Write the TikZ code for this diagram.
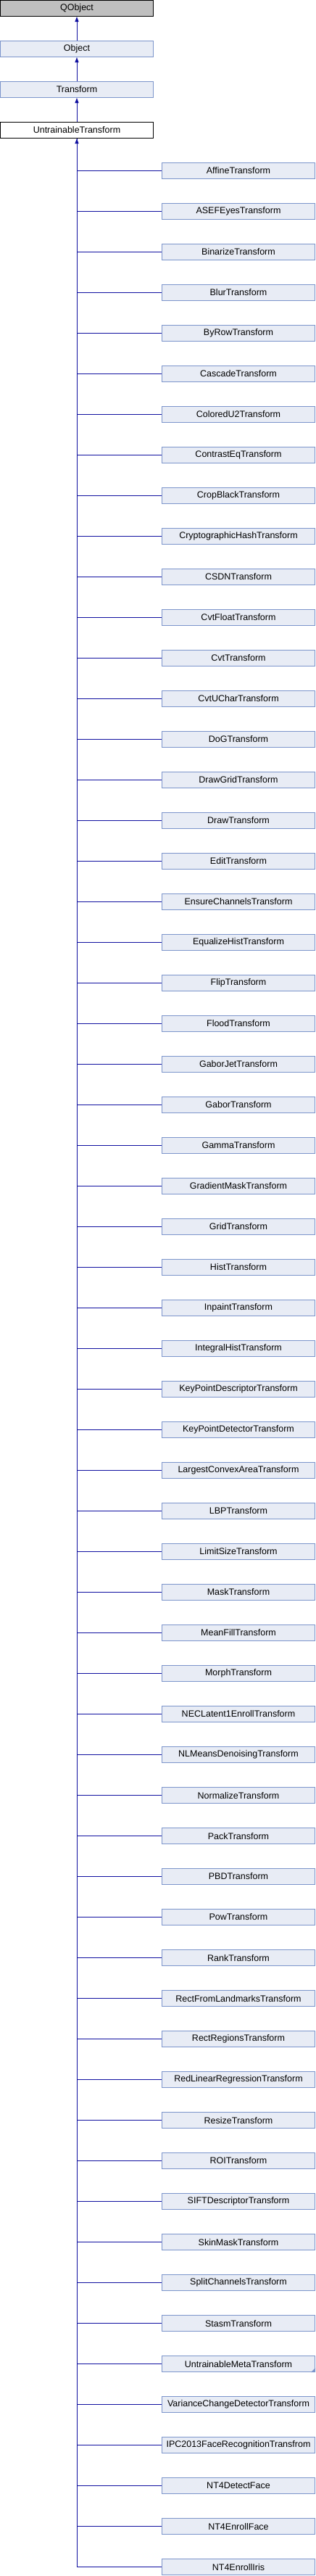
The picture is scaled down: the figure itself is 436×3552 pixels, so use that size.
\documentclass[tikz,border=0pt]{standalone}
\usepackage{fontspec}
\setmainfont{Liberation Sans}
\usetikzlibrary{arrows.meta}
\definecolor{boxfill}{HTML}{E8ECF5}
\definecolor{boxborder}{HTML}{7C95CB}
\definecolor{rootfill}{HTML}{BFBFBF}
\definecolor{linkblue}{HTML}{1010A0}
\begin{document}
\begin{tikzpicture}[x=1pt, y=-1pt, line width=1pt,
  main node/.style={rectangle,draw=boxborder,fill=boxfill,minimum width=211pt,minimum height=22pt,inner sep=0pt,font=\fontsize{12.5}{14}\selectfont},
  root node/.style={main node,draw=black,fill=rootfill},
  this node/.style={main node,draw=black,fill=white},
  link/.style={draw=linkblue,line width=1pt},
  inherit/.style={link,{Triangle[length=7pt,width=5pt]}-}]%
\useasboundingbox (0,0) rectangle (436,3552);
\node[root node] (qobject) at (106,11.5) {QObject};
\node[main node] (object) at (106,67.5) {Object};
\node[main node] (transform) at (106,123.5) {Transform};
\node[this node] (untrainable) at (106,179.5) {UntrainableTransform};
\node[main node] (c1) at (329,235.5) {AffineTransform};
\node[main node] (c2) at (329,291.5) {ASEFEyesTransform};
\node[main node] (c3) at (329,347.5) {BinarizeTransform};
\node[main node] (c4) at (329,403.5) {BlurTransform};
\node[main node] (c5) at (329,459.5) {ByRowTransform};
\node[main node] (c6) at (329,515.5) {CascadeTransform};
\node[main node] (c7) at (329,571.5) {ColoredU2Transform};
\node[main node] (c8) at (329,627.5) {ContrastEqTransform};
\node[main node] (c9) at (329,683.5) {CropBlackTransform};
\node[main node] (c10) at (329,739.5) {CryptographicHashTransform};
\node[main node] (c11) at (329,795.5) {CSDNTransform};
\node[main node] (c12) at (329,851.5) {CvtFloatTransform};
\node[main node] (c13) at (329,907.5) {CvtTransform};
\node[main node] (c14) at (329,963.5) {CvtUCharTransform};
\node[main node] (c15) at (329,1019.5) {DoGTransform};
\node[main node] (c16) at (329,1075.5) {DrawGridTransform};
\node[main node] (c17) at (329,1131.5) {DrawTransform};
\node[main node] (c18) at (329,1187.5) {EditTransform};
\node[main node] (c19) at (329,1243.5) {EnsureChannelsTransform};
\node[main node] (c20) at (329,1299.5) {EqualizeHistTransform};
\node[main node] (c21) at (329,1355.5) {FlipTransform};
\node[main node] (c22) at (329,1411.5) {FloodTransform};
\node[main node] (c23) at (329,1467.5) {GaborJetTransform};
\node[main node] (c24) at (329,1523.5) {GaborTransform};
\node[main node] (c25) at (329,1579.5) {GammaTransform};
\node[main node] (c26) at (329,1635.5) {GradientMaskTransform};
\node[main node] (c27) at (329,1691.5) {GridTransform};
\node[main node] (c28) at (329,1747.5) {HistTransform};
\node[main node] (c29) at (329,1803.5) {InpaintTransform};
\node[main node] (c30) at (329,1859.5) {IntegralHistTransform};
\node[main node] (c31) at (329,1915.5) {KeyPointDescriptorTransform};
\node[main node] (c32) at (329,1971.5) {KeyPointDetectorTransform};
\node[main node] (c33) at (329,2027.5) {LargestConvexAreaTransform};
\node[main node] (c34) at (329,2083.5) {LBPTransform};
\node[main node] (c35) at (329,2139.5) {LimitSizeTransform};
\node[main node] (c36) at (329,2195.5) {MaskTransform};
\node[main node] (c37) at (329,2251.5) {MeanFillTransform};
\node[main node] (c38) at (329,2307.5) {MorphTransform};
\node[main node] (c39) at (329,2363.5) {NECLatent1EnrollTransform};
\node[main node] (c40) at (329,2419.5) {NLMeansDenoisingTransform};
\node[main node] (c41) at (329,2475.5) {NormalizeTransform};
\node[main node] (c42) at (329,2531.5) {PackTransform};
\node[main node] (c43) at (329,2587.5) {PBDTransform};
\node[main node] (c44) at (329,2643.5) {PowTransform};
\node[main node] (c45) at (329,2699.5) {RankTransform};
\node[main node] (c46) at (329,2755.5) {RectFromLandmarksTransform};
\node[main node] (c47) at (329,2811.5) {RectRegionsTransform};
\node[main node] (c48) at (329,2867.5) {RedLinearRegressionTransform};
\node[main node] (c49) at (329,2923.5) {ResizeTransform};
\node[main node] (c50) at (329,2979.5) {ROITransform};
\node[main node] (c51) at (329,3035.5) {SIFTDescriptorTransform};
\node[main node] (c52) at (329,3091.5) {SkinMaskTransform};
\node[main node] (c53) at (329,3147.5) {SplitChannelsTransform};
\node[main node] (c54) at (329,3203.5) {StasmTransform};
\node[main node] (c55) at (329,3259.5) {UntrainableMetaTransform};
\node[main node] (c56) at (329,3315.5) {VarianceChangeDetectorTransform};
\node[main node] (c57) at (329,3371.5) {IPC2013FaceRecognitionTransfrom};
\node[main node] (c58) at (329,3427.5) {NT4DetectFace};
\node[main node] (c59) at (329,3483.5) {NT4EnrollFace};
\node[main node] (c60) at (329,3539.5) {NT4EnrollIris};
% has subclasses
\fill[boxborder] (c55.south east) -- ++(-6,0) -- ++(6,-6) -- cycle;
\draw[inherit] (qobject) -- (object);
\draw[inherit] (object) -- (transform);
\draw[inherit] (transform) -- (untrainable);
\draw[inherit] (untrainable) |- (c60);
\draw[link] (untrainable) |- (c1);
\draw[link] (untrainable) |- (c2);
\draw[link] (untrainable) |- (c3);
\draw[link] (untrainable) |- (c4);
\draw[link] (untrainable) |- (c5);
\draw[link] (untrainable) |- (c6);
\draw[link] (untrainable) |- (c7);
\draw[link] (untrainable) |- (c8);
\draw[link] (untrainable) |- (c9);
\draw[link] (untrainable) |- (c10);
\draw[link] (untrainable) |- (c11);
\draw[link] (untrainable) |- (c12);
\draw[link] (untrainable) |- (c13);
\draw[link] (untrainable) |- (c14);
\draw[link] (untrainable) |- (c15);
\draw[link] (untrainable) |- (c16);
\draw[link] (untrainable) |- (c17);
\draw[link] (untrainable) |- (c18);
\draw[link] (untrainable) |- (c19);
\draw[link] (untrainable) |- (c20);
\draw[link] (untrainable) |- (c21);
\draw[link] (untrainable) |- (c22);
\draw[link] (untrainable) |- (c23);
\draw[link] (untrainable) |- (c24);
\draw[link] (untrainable) |- (c25);
\draw[link] (untrainable) |- (c26);
\draw[link] (untrainable) |- (c27);
\draw[link] (untrainable) |- (c28);
\draw[link] (untrainable) |- (c29);
\draw[link] (untrainable) |- (c30);
\draw[link] (untrainable) |- (c31);
\draw[link] (untrainable) |- (c32);
\draw[link] (untrainable) |- (c33);
\draw[link] (untrainable) |- (c34);
\draw[link] (untrainable) |- (c35);
\draw[link] (untrainable) |- (c36);
\draw[link] (untrainable) |- (c37);
\draw[link] (untrainable) |- (c38);
\draw[link] (untrainable) |- (c39);
\draw[link] (untrainable) |- (c40);
\draw[link] (untrainable) |- (c41);
\draw[link] (untrainable) |- (c42);
\draw[link] (untrainable) |- (c43);
\draw[link] (untrainable) |- (c44);
\draw[link] (untrainable) |- (c45);
\draw[link] (untrainable) |- (c46);
\draw[link] (untrainable) |- (c47);
\draw[link] (untrainable) |- (c48);
\draw[link] (untrainable) |- (c49);
\draw[link] (untrainable) |- (c50);
\draw[link] (untrainable) |- (c51);
\draw[link] (untrainable) |- (c52);
\draw[link] (untrainable) |- (c53);
\draw[link] (untrainable) |- (c54);
\draw[link] (untrainable) |- (c55);
\draw[link] (untrainable) |- (c56);
\draw[link] (untrainable) |- (c57);
\draw[link] (untrainable) |- (c58);
\draw[link] (untrainable) |- (c59);
\end{tikzpicture}
\end{document}
